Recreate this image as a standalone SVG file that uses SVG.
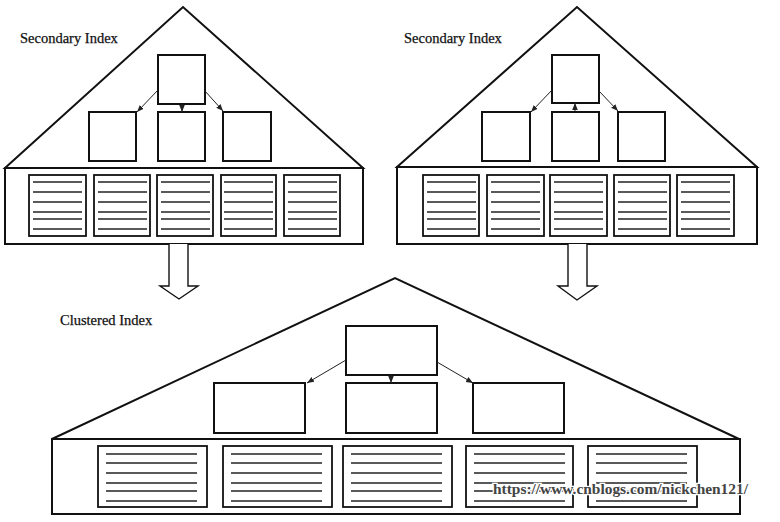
<svg xmlns="http://www.w3.org/2000/svg" width="780" height="522" viewBox="0 0 780 522">
<style>
.outline{fill:none;stroke:#111;stroke-width:2}
.box{fill:#fff;stroke:#111;stroke-width:2}
.page{fill:#fff;stroke:#111;stroke-width:1.8}
.ln{stroke:#222;stroke-width:1.6}
.conn{fill:none;stroke:#222;stroke-width:1;marker-end:url(#ah)}
.big{fill:#fff;stroke:#111;stroke-width:1.4}
.lbl{font-family:"Liberation Serif","Times New Roman",serif;font-size:14.5px;fill:#111;stroke:#111;stroke-width:0.25}
.wm{font-family:"Liberation Serif","Times New Roman",serif;font-size:14px;font-weight:bold;fill:#444;stroke:#fff;stroke-width:2.5;paint-order:stroke}
</style>
<defs>
<marker id="ah" viewBox="0 0 10 10" refX="10" refY="5" markerWidth="7" markerHeight="7" orient="auto" markerUnits="userSpaceOnUse">
<path d="M0,1 L10,5 L0,9 z" fill="#222"/>
</marker>
<g id="pageS">
<line class="ln" x1="4" y1="7" x2="53" y2="7"/>
<line class="ln" x1="4" y1="17" x2="53" y2="17"/>
<line class="ln" x1="4" y1="27" x2="53" y2="27"/>
<line class="ln" x1="4" y1="37" x2="53" y2="37"/>
<line class="ln" x1="4" y1="44" x2="53" y2="44"/>
<line class="ln" x1="4" y1="54" x2="53" y2="54"/>
</g>
<g id="pageL">
<line class="ln" x1="8" y1="8" x2="99" y2="8"/>
<line class="ln" x1="8" y1="17" x2="99" y2="17"/>
<line class="ln" x1="8" y1="27" x2="99" y2="27"/>
<line class="ln" x1="8" y1="37" x2="99" y2="37"/>
<line class="ln" x1="8" y1="45" x2="99" y2="45"/>
<line class="ln" x1="8" y1="55" x2="99" y2="55"/>
</g>
</defs>
<rect width="780" height="522" fill="#fff"/>

<!-- Secondary index left -->
<g id="secondary-left">
<path class="outline" d="M5,168 L183,7 L363,168 Z"/>
<rect class="outline" x="5" y="168" width="358" height="76"/>
<text class="lbl" x="20" y="43">Secondary Index</text>
<g id="sl-root"><rect class="box" x="158" y="55" width="47" height="49"/></g>
<g id="sl-c1"><rect class="box" x="89" y="112" width="47" height="49"/></g>
<g id="sl-c2"><rect class="box" x="158" y="112" width="47" height="49"/></g>
<g id="sl-c3"><rect class="box" x="223" y="112" width="48" height="49"/></g>
<g id="sl-pages">
<rect class="page" x="29" y="175" width="57" height="61"/><use href="#pageS" x="29" y="175"/>
<rect class="page" x="94" y="175" width="56" height="61"/><use href="#pageS" x="94" y="175"/>
<rect class="page" x="157" y="175" width="56" height="61"/><use href="#pageS" x="157" y="175"/>
<rect class="page" x="221" y="175" width="55" height="61"/><use href="#pageS" x="220" y="175"/>
<rect class="page" x="284" y="175" width="56" height="61"/><use href="#pageS" x="284" y="175"/>
</g>
</g>

<!-- Secondary index right -->
<g id="secondary-right">
<path class="outline" d="M397,167 L577,7 L757,167 Z"/>
<rect class="outline" x="397" y="167" width="360" height="77"/>
<text class="lbl" x="404" y="43">Secondary Index</text>
<g id="sr-root"><rect class="box" x="552" y="55" width="47" height="48"/></g>
<g id="sr-c1"><rect class="box" x="482" y="112" width="48" height="49"/></g>
<g id="sr-c2"><rect class="box" x="552" y="112" width="47" height="49"/></g>
<g id="sr-c3"><rect class="box" x="618" y="112" width="47" height="49"/></g>
<g id="sr-pages">
<rect class="page" x="423" y="175" width="56" height="61"/><use href="#pageS" x="423" y="175"/>
<rect class="page" x="487" y="175" width="57" height="61"/><use href="#pageS" x="487" y="175"/>
<rect class="page" x="550" y="175" width="57" height="61"/><use href="#pageS" x="550" y="175"/>
<rect class="page" x="614" y="175" width="56" height="61"/><use href="#pageS" x="614" y="175"/>
<rect class="page" x="677" y="175" width="57" height="61"/><use href="#pageS" x="677" y="175"/>
</g>
</g>

<!-- Clustered index -->
<g id="clustered">
<path class="outline" d="M52,439 L395,278 L739,439 Z"/>
<rect class="outline" x="52" y="439" width="688" height="75"/>
<text class="lbl" x="60" y="325">Clustered Index</text>
<g id="cl-root"><rect class="box" x="346" y="326" width="91" height="49"/></g>
<g id="cl-c1"><rect class="box" x="214" y="383" width="91" height="50"/></g>
<g id="cl-c2"><rect class="box" x="346" y="383" width="91" height="50"/></g>
<g id="cl-c3"><rect class="box" x="473" y="383" width="91" height="50"/></g>
<g id="cl-pages">
<rect class="page" x="98" y="446" width="109" height="61"/><use href="#pageL" x="98" y="446"/>
<rect class="page" x="223" y="446" width="109" height="61"/><use href="#pageL" x="223" y="446"/>
<rect class="page" x="343" y="446" width="109" height="61"/><use href="#pageL" x="343" y="446"/>
<rect class="page" x="466" y="446" width="107" height="61"/><use href="#pageL" x="466" y="446"/>
<rect class="page" x="588" y="446" width="109" height="61"/><use href="#pageL" x="588" y="446"/>
</g>
</g>

<!-- big arrows -->
<g id="arrow-left"><path class="big" d="M169,244 L169,286 L160,286 L179,299 L198,286 L188,286 L188,244"/></g>
<g id="arrow-right"><path class="big" d="M568,244 L568,286 L558,286 L577,300 L597,286 L587,286 L587,244"/></g>

<!-- connectors -->
<g id="connectors">
<line class="conn" x1="158" y1="90" x2="137" y2="112"/>
<line class="conn" x1="182" y1="104" x2="182" y2="112"/>
<line class="conn" x1="205" y1="91" x2="223" y2="111"/>
<line class="conn" x1="552" y1="90" x2="531" y2="112"/>
<line class="conn" x1="575" y1="111" x2="575" y2="103"/>
<line class="conn" x1="599" y1="91" x2="618" y2="111"/>
<line class="conn" x1="346" y1="360" x2="307" y2="383"/>
<line class="conn" x1="391" y1="375" x2="391" y2="383"/>
<line class="conn" x1="437" y1="362" x2="473" y2="383"/>
</g>

<text class="wm" x="493" y="494" textLength="255" lengthAdjust="spacingAndGlyphs">https://www.cnblogs.com/nickchen121/</text>
</svg>
